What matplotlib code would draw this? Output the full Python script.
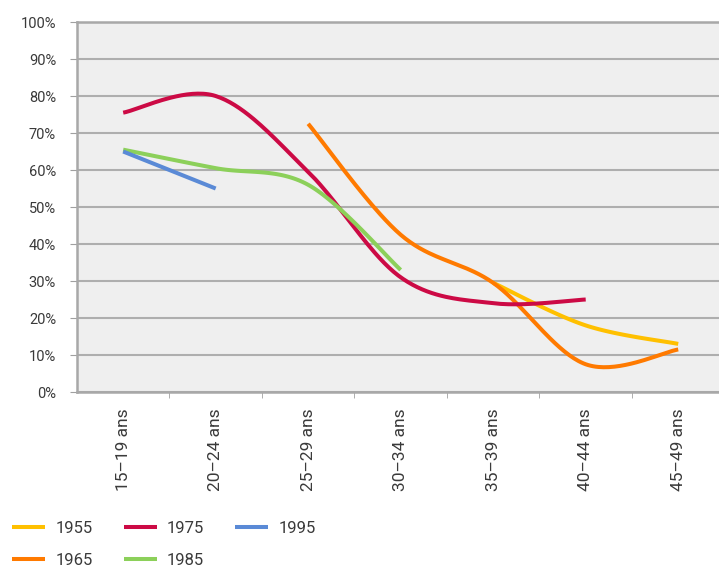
import numpy as np
import matplotlib
matplotlib.use("Agg")
import matplotlib.pyplot as plt

# Data
age_groups = ["15–19 ans", "20–24 ans", "25–29 ans", "30–34 ans",
              "35–39 ans", "40–44 ans", "45–49 ans"]
series_names = ["1955", "1965", "1975", "1985", "1995"]
start_index = {"1955": 4, "1965": 2, "1975": 0, "1985": 0, "1995": 0}
values_1955 = [29.5, 18, 13]
values_1965 = [72.5, 42.5, 29.5, 7.5, 11.5]
values_1975 = [75.5, 80, 59.5, 31, 24, 25]
values_1985 = [65.5, 60.5, 56, 33]
values_1995 = [65, 55]
values = {"1955": values_1955, "1965": values_1965, "1975": values_1975,
          "1985": values_1985, "1995": values_1995}
colors = {"1955": "#FFC000", "1965": "#FF7A00", "1975": "#CC0A45",
          "1985": "#8CD05A", "1995": "#5A8AD6"}


# Excel-like smoothed line (Bezier through the points)
def smooth(x, y, n=40):
    x = np.asarray(x, float)
    y = np.asarray(y, float)
    if len(x) < 3:
        return x, y
    px = np.concatenate([[x[0]], x, [x[-1]]])
    py = np.concatenate([[y[0]], y, [y[-1]]])
    xs, ys = [], []
    t = np.linspace(0, 1, n)
    for i in range(1, len(px) - 2):
        p0 = np.array([px[i], py[i]])
        p3 = np.array([px[i + 1], py[i + 1]])
        c1 = p0 + (np.array([px[i + 1], py[i + 1]]) - np.array([px[i - 1], py[i - 1]])) / 6
        c2 = p3 - (np.array([px[i + 2], py[i + 2]]) - np.array([px[i], py[i]])) / 6
        b = ((1 - t) ** 3)[:, None] * p0 + (3 * (1 - t) ** 2 * t)[:, None] * c1 \
            + (3 * (1 - t) * t ** 2)[:, None] * c2 + (t ** 3)[:, None] * p3
        xs.extend(b[:, 0])
        ys.extend(b[:, 1])
    return np.array(xs), np.array(ys)


plt.rcParams['font.family'] = ['Roboto', 'DejaVu Sans']

fig = plt.figure(figsize=(7.19, 5.66), dpi=100)
ax = fig.add_axes([0.107, 0.3074, 0.9006, 0.6537])
ax.set_facecolor("#EFEFEF")

for name in series_names:
    s = start_index[name]
    xs = np.arange(s, s + len(values[name]))
    sx, sy = smooth(xs, values[name])
    ax.plot(sx, sy, color=colors[name], lw=2.9, solid_capstyle="butt", label=name)

ax.set_xlim(-0.5, len(age_groups) - 0.5)
ax.set_ylim(0, 100)
ax.set_yticks(np.arange(0, 101, 10))
ax.set_yticklabels([f"{v}%" for v in range(0, 101, 10)], fontsize=10.5, color="#3A3A3A")
ax.set_xticks(np.arange(len(age_groups)))
ax.set_xticklabels(age_groups, rotation=90, fontsize=12.5, color="#3A3A3A")
ax.set_xticks(np.arange(len(age_groups)) + 0.5, minor=True)
ax.tick_params(axis="x", which="major", length=0, pad=12)
ax.tick_params(axis="x", which="minor", length=4, color="#A0A0A0")
ax.tick_params(axis="y", length=5, color="#A0A0A0", pad=10)
ax.grid(axis="y", color="#AEAEAE", lw=1.5)
ax.set_axisbelow(True)
for side in ["left", "bottom", "top"]:
    ax.spines[side].set_color("#A8A8A8")
    ax.spines[side].set_linewidth(1.8)
ax.spines["right"].set_visible(False)

fig.legend(loc="lower left", bbox_to_anchor=(-0.004, -0.03), ncol=3, frameon=False,
           fontsize=12, handlelength=2.0, columnspacing=1.85, labelspacing=1.0,
           handletextpad=0.6, labelcolor="#3A3A3A")

fig.savefig("out.png", dpi=100)
